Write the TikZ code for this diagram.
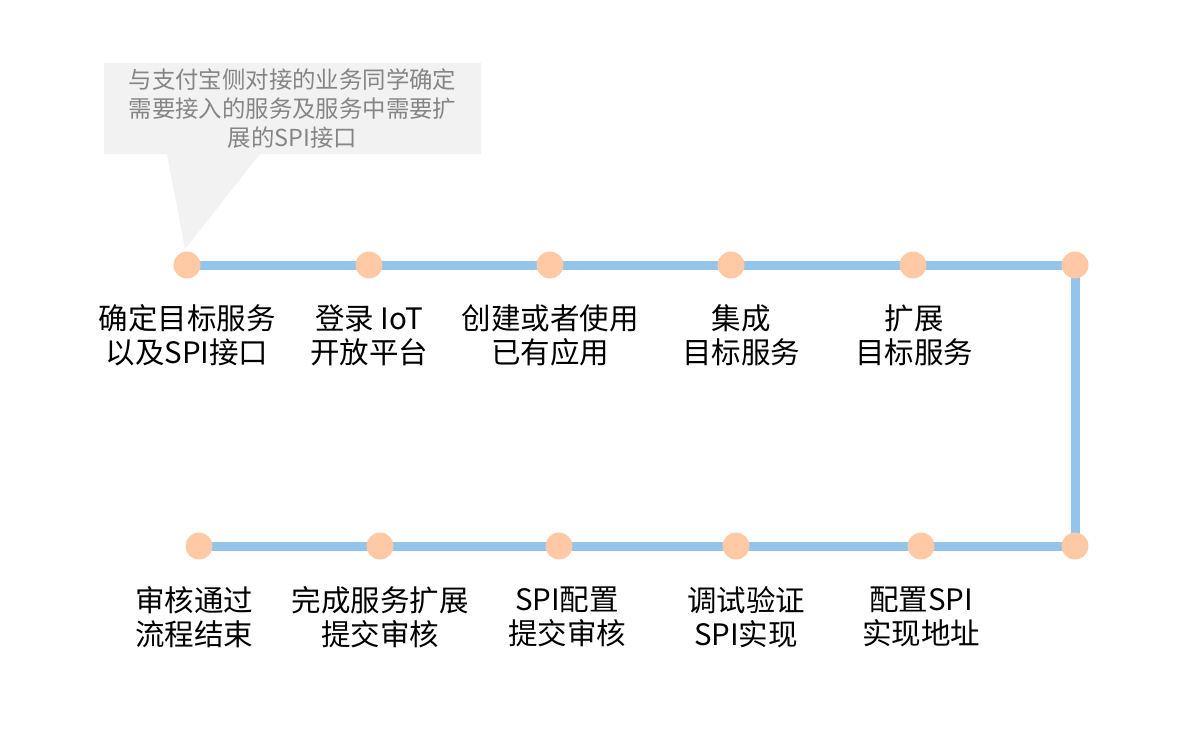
\documentclass[tikz,border=0pt]{standalone}
\usepackage{fontspec}
\setmainfont{Noto Sans CJK SC}
\usetikzlibrary{backgrounds}
\definecolor{peach}{HTML}{FFC9A6}
\definecolor{lineblue}{HTML}{93C4E9}
\definecolor{callbg}{HTML}{F2F2F2}
\definecolor{calltext}{HTML}{858585}
\begin{document}
\begin{tikzpicture}[x=1pt,y=-1pt,
  dot/.style={circle,fill=peach,minimum size=27pt,inner sep=0pt},
  link/.style={line width=9pt,draw=lineblue,line join=miter},
  lab/.style={align=center,font=\fontsize{29.5}{34}\selectfont,text=black,inner sep=0pt},
  note/.style={align=center,font=\fontsize{23.4}{29}\selectfont,text=calltext,inner sep=0pt}]
\useasboundingbox (0,0) rectangle (1177,747);
% callout
\fill[callbg] (104,63) -- (481,63) -- (481,154) -- (260,154) -- (185,249) -- (167,154) -- (104,154) -- cycle;
\node[note] (callout) at (292.5,109) {与支付宝侧对接的业务同学确定\\需要接入的服务及服务中需要扩\\展的SPI接口};
% top row
\node[dot] (a1) at (187,265) {};
\node[dot] (a2) at (369,265) {};
\node[dot] (a3) at (550,265) {};
\node[dot] (a4) at (731,265) {};
\node[dot] (a5) at (913,265) {};
\node[dot] (a6) at (1075,265) {};
% bottom row
\node[dot] (b6) at (1075,546) {};
\node[dot] (b5) at (921,546) {};
\node[dot] (b4) at (736,546) {};
\node[dot] (b3) at (559,546) {};
\node[dot] (b2) at (380,546) {};
\node[dot] (b1) at (199,546) {};
\begin{scope}[on background layer]
\draw[link] (a1.center) -- (a2.center) -- (a3.center) -- (a4.center) -- (a5.center) -- (a6.center)
  -- (b6.center) -- (b5.center) -- (b4.center) -- (b3.center) -- (b2.center) -- (b1.center);
\end{scope}
% labels
\node[lab] (la1) at (187,335) {确定目标服务\\以及SPI接口};
\node[lab] (la2) at (369,335) {登录 IoT\\开放平台};
\node[lab] (la3) at (550,335) {创建或者使用\\已有应用};
\node[lab] (la4) at (741,335) {集成\\目标服务};
\node[lab] (la5) at (914,335) {扩展\\目标服务};
\node[lab] (lb1) at (194,617) {审核通过\\流程结束};
\node[lab] (lb2) at (380,617) {完成服务扩展\\提交审核};
\node[lab] (lb3) at (567,617) {SPI配置\\提交审核};
\node[lab] (lb4) at (746,617) {调试验证\\SPI实现};
\node[lab] (lb5) at (921,617) {配置SPI\\实现地址};
\end{tikzpicture}
\end{document}
